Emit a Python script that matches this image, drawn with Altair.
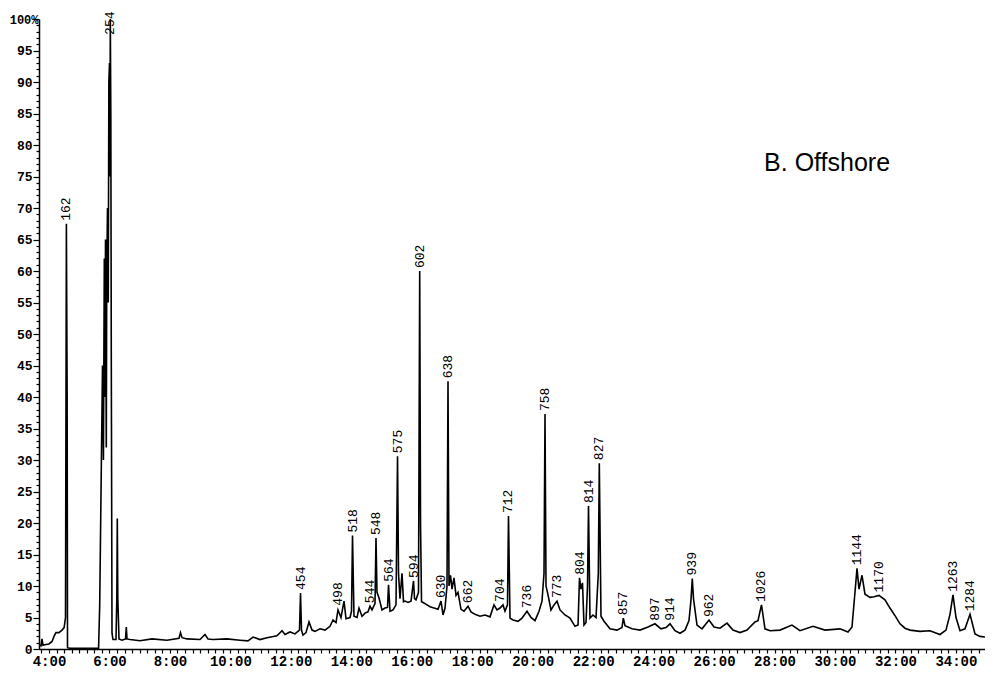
import altair as alt
import pandas as pd

# Retention time (minutes) and relative abundance (%)
time_min = [
    3.669, 3.735, 3.768, 3.801, 3.90, 4.00, 4.10, 4.165, 4.23, 4.33, 4.43, 4.50, 4.546, 4.575, 4.600, 4.612, 4.70,
    5.640, 5.677, 5.770, 5.800, 5.830, 5.850, 5.869, 5.895, 5.910, 5.935, 5.960, 5.980, 6.001, 6.015, 6.028,
    6.045, 6.061, 6.084, 6.117, 6.216, 6.243, 6.259, 6.276,
    6.316, 6.415, 6.531, 6.557, 6.580, 6.679, 7.010, 7.407, 7.903, 8.300, 8.350, 8.400, 8.565, 8.995, 9.161,
    9.260, 9.425, 9.888, 10.318, 10.583, 10.748, 10.980, 11.211, 11.542, 11.708, 11.807, 11.972, 12.137,
    12.286, 12.320, 12.353, 12.402, 12.501, 12.601, 12.700, 12.799, 12.965, 13.130, 13.295, 13.395, 13.494,
    13.560, 13.659, 13.759, 13.825, 13.957, 14.007, 14.040, 14.089, 14.189, 14.255, 14.354, 14.453, 14.553,
    14.619, 14.685, 14.784, 14.817, 14.850, 14.917, 15.016, 15.115, 15.198, 15.231, 15.281, 15.380, 15.479,
    15.529, 15.562, 15.611, 15.678, 15.727, 15.777, 15.876, 15.975, 16.058, 16.091, 16.140, 16.223, 16.263,
    16.290, 16.323, 16.405, 16.505, 16.604, 16.736, 16.868, 16.968, 17.034, 17.100, 17.166, 17.199, 17.232,
    17.282, 17.331, 17.397, 17.464, 17.530, 17.629, 17.728, 17.861, 17.960, 18.092, 18.257, 18.423, 18.588,
    18.720, 18.820, 18.919, 19.018, 19.084, 19.167, 19.200, 19.250, 19.349, 19.514, 19.647, 19.812, 19.944,
    20.077, 20.209, 20.308, 20.375, 20.408, 20.441, 20.507, 20.606, 20.706, 20.805, 20.904, 21.069, 21.235,
    21.400, 21.500, 21.549, 21.599, 21.648, 21.698, 21.764, 21.814, 21.847, 21.896, 21.996, 22.095, 22.171,
    22.204, 22.260, 22.359, 22.558, 22.789, 22.955, 22.998, 23.054, 23.286, 23.550, 23.815, 24.046, 24.245,
    24.410, 24.543, 24.708, 24.873, 25.039, 25.171, 25.237, 25.280, 25.320, 25.436, 25.601, 25.833, 25.998,
    26.197, 26.428, 26.627, 26.858, 27.090, 27.354, 27.454, 27.569, 27.685, 27.851, 28.181, 28.578, 28.843,
    29.273, 29.670, 30.166, 30.431, 30.563, 30.662, 30.729, 30.795, 30.894, 30.993, 31.158, 31.291, 31.456,
    31.654, 31.820, 31.985, 32.151, 32.316, 32.482, 32.812, 33.143, 33.474, 33.673, 33.805, 33.904, 34.004,
    34.136, 34.301, 34.467, 34.632, 34.797, 34.963,
]
abundance = [
    0.6, 0.5, 1.6, 0.6, 0.7, 0.8, 1.2, 2.0, 2.6, 2.6, 3.0, 3.4, 5.0, 67.5, 40.0, 0.2, 0.1,
    0.1, 7.0, 45.0, 30.0, 62.0, 40.0, 65.0, 32.0, 60.0, 70.0, 55.0, 90.0, 93.0, 75.0, 100.0,
    85.0, 45.0, 2.5, 1.5, 1.5, 8.0, 20.7, 8.0,
    1.6, 1.4, 1.6, 3.5, 1.6, 1.5, 1.3, 1.6, 1.4, 1.7, 2.6, 1.8, 1.6, 1.5, 2.3,
    1.6, 1.5, 1.6, 1.4, 1.3, 1.9, 1.5, 1.8, 2.1, 2.9, 2.3, 2.7, 2.4,
    3.0, 8.9, 3.0, 2.2, 2.6, 4.3, 3.0, 2.8, 3.2, 3.0, 3.6, 4.6, 4.2,
    6.2, 5.0, 7.6, 4.8, 5.0, 6.0, 18.0, 5.2, 5.0, 6.5, 5.2, 5.7, 5.9,
    6.8, 6.2, 7.2, 17.6, 9.0, 8.1, 6.2, 6.5, 6.6, 10.2, 6.0, 6.2, 7.0,
    30.6, 12.0, 8.0, 12.0, 7.5, 7.6, 7.4, 7.6, 10.8, 8.0, 7.8, 9.0, 60.0,
    20.0, 7.5, 7.3, 7.0, 6.7, 6.5, 6.3, 7.6, 5.4, 6.5, 10.0, 42.5, 10.0,
    11.7, 9.5, 11.3, 8.5, 9.0, 6.3, 6.0, 6.8, 5.9, 5.5, 5.2, 5.4, 5.1,
    7.0, 6.2, 6.5, 7.0, 6.0, 7.0, 21.1, 4.9, 4.6, 4.4, 4.9, 6.0, 5.0,
    4.5, 6.0, 7.6, 12.0, 37.3, 10.0, 8.6, 6.2, 7.0, 7.6, 6.2, 5.4, 4.9,
    3.6, 3.8, 11.3, 9.5, 10.5, 3.8, 4.2, 10.0, 22.7, 4.9, 5.4, 5.0, 12.0,
    29.5, 5.2, 4.4, 3.2, 3.0, 3.4, 4.9, 3.7, 3.2, 3.0, 3.5, 4.0, 3.2,
    3.4, 4.0, 2.9, 2.5, 3.0, 4.5, 7.8, 11.2, 8.0, 3.8, 3.2, 4.6, 3.5,
    3.3, 4.1, 3.0, 2.6, 3.0, 4.3, 4.5, 7.0, 3.2, 2.9, 3.0, 3.8, 2.9,
    3.6, 3.0, 3.2, 2.7, 3.5, 9.0, 12.8, 9.5, 11.7, 8.7, 8.2, 8.3, 8.5,
    7.8, 6.5, 5.3, 4.0, 3.3, 3.0, 2.8, 2.9, 2.3, 3.0, 5.5, 8.6, 5.0,
    2.9, 3.2, 5.5, 2.4, 2.0, 1.9,
]

# Peak annotations (scan numbers)
peak_labels = ["162", "254", "454", "498", "518", "544", "548", "564", "575", "594", "602", "630",
               "638", "662", "704", "712", "736", "758", "773", "804", "814", "827", "857", "897",
               "914", "939", "962", "1026", "1144", "1170", "1263", "1284"]
label_time = [4.575, 6.028, 12.320, 13.560, 14.040, 14.620, 14.817, 15.231, 15.529, 16.058, 16.263, 16.968,
              17.199, 17.861, 18.919, 19.200, 19.812, 20.408, 20.805, 21.549, 21.847, 22.204, 22.998, 24.046,
              24.543, 25.280, 25.833, 27.569, 30.729, 31.456, 33.904, 34.467]
label_abund = [67.5, 97.0, 8.9, 6.4, 18.0, 6.8, 17.6, 10.2, 30.6, 10.8, 60.0, 7.6,
               42.5, 6.8, 7.0, 21.1, 6.0, 37.3, 7.6, 11.3, 22.7, 29.5, 4.9, 4.0,
               4.0, 11.2, 4.6, 7.0, 12.8, 8.5, 8.6, 5.5]

panel_title = ["B. Offshore"]
title_time = [29.74]
title_abund = [77.1]

x_ticks = [3.75 + 0.25 * i for i in range(125)]
y_ticks = list(range(0, 101))

trace = pd.DataFrame({"t": time_min, "v": abundance})
labels = pd.DataFrame({"label": peak_labels, "t": label_time, "v": label_abund})
title_df = pd.DataFrame({"text": panel_title, "t": title_time, "v": title_abund})

x_scale = alt.Scale(domain=[3.669, 34.963], nice=False, zero=False)
y_scale = alt.Scale(domain=[0, 100], nice=False, zero=True)

x_axis = alt.Axis(
    values=x_ticks, tickCount=500,
    labelExpr="datum.value % 2 === 0 ? datum.value + ':00' : ''",
    title=None, grid=False, tickSize=4, tickColor="black", tickWidth=1.2,
    domainColor="black", domainWidth=1.5,
    labelFont="Liberation Mono", labelFontWeight="bold", labelFontSize=14,
    labelColor="black", labelPadding=1, labelOverlap=False, labelFlush=False,
)
y_axis = alt.Axis(
    values=y_ticks, tickCount=500,
    labelExpr="datum.value === 100 ? '100%' : (datum.value % 5 === 0 ? datum.value : '')",
    title=None, grid=False,
    tickSize={"condition": {"test": "datum.value % 5 === 0", "value": 6}, "value": 3},
    tickColor="black", tickWidth=1.2,
    domainColor="black", domainWidth=1.5,
    labelFont="Liberation Mono", labelFontWeight="bold",
    labelFontSize={"condition": {"test": "datum.value === 100", "value": 12}, "value": 13},
    labelPadding={"condition": {"test": "datum.value === 100", "value": -5}, "value": 1},
    labelColor="black", labelOverlap=False, labelFlush=False,
)

x_enc = alt.X("t:Q", scale=x_scale, axis=x_axis)
y_enc = alt.Y("v:Q", scale=y_scale, axis=y_axis)

line = alt.Chart(trace).mark_line(color="black", strokeWidth=1.6, clip=True).encode(
    x=x_enc, y=y_enc, order="t:Q",
)

text = alt.Chart(labels).mark_text(
    angle=270, align="left", baseline="middle", dx=3,
    font="Liberation Mono", fontSize=13, color="black",
).encode(x=x_enc, y=y_enc, text="label:N")

title = alt.Chart(title_df).mark_text(
    align="center", baseline="middle", font="Liberation Sans",
    fontSize=25, color="black",
).encode(x=x_enc, y=y_enc, text="text:N")

chart = alt.layer(line, text, title).properties(
    width=946, height=630,
    autosize=alt.AutoSizeParams(type="none"),
    padding={"left": 31, "top": 11, "right": 0, "bottom": 22},
).configure_view(stroke=None)

chart.save("out.html", embed_options={"renderer": "svg", "actions": False})
